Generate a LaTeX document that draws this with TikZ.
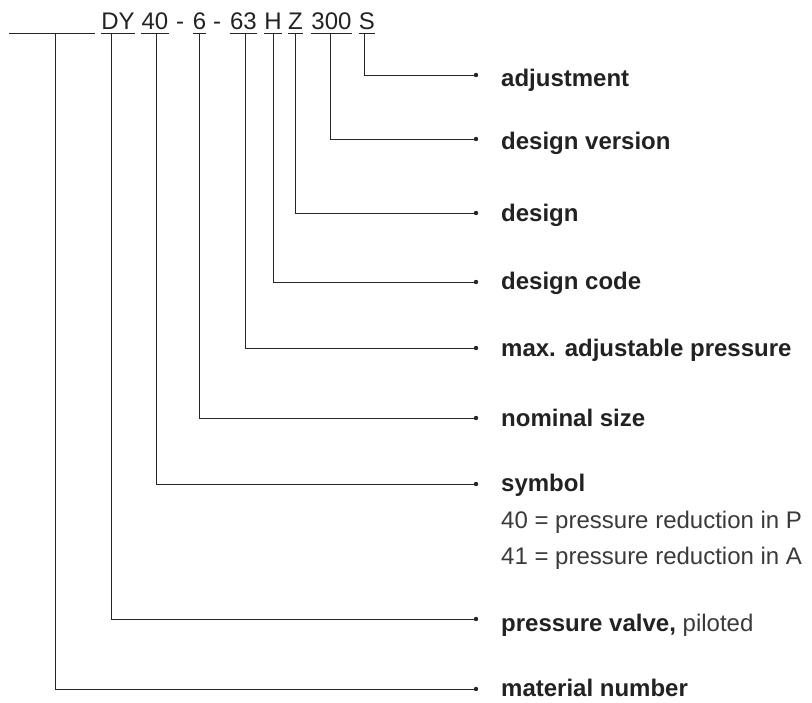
\documentclass[tikz,border=0pt]{standalone}
\usepackage{fontspec}
\setmainfont{Liberation Sans}
\usetikzlibrary{calc}
\definecolor{ink}{HTML}{222222}
\definecolor{inkl}{HTML}{3A3A3A}
\begin{document}
\begin{tikzpicture}[x=1pt,y=-1pt,
  tok/.style={anchor=base,inner sep=0pt,font=\fontsize{24}{28}\selectfont,text=ink},
  lbl/.style={anchor=base west,inner sep=0pt,font=\fontsize{24}{28}\selectfont\bfseries,text=ink},
  sub/.style={anchor=base west,inner sep=0pt,font=\fontsize{24}{28}\selectfont,text=inkl},
  ln/.style={draw=black!85,line width=0.8pt},
  dot/.style={circle,fill=black!85,inner sep=0pt,minimum size=4.4pt}]
\useasboundingbox (0,0) rectangle (812,703);
% header tokens
\coordinate (blankL) at (9,33);
\coordinate (blankR) at (95,33);
\node[tok] (tDY) at (118,30) {DY};
\node[tok] (t40) at (155,30) {40};
\node[tok] (m1) at (180,30) {-};
\node[tok] (t6) at (199.5,30) {6};
\node[tok] (m2) at (217,30) {-};
\node[tok] (t63) at (243.5,30) {63};
\node[tok] (tH) at (273,30) {H};
\node[tok] (tZ) at (295.5,30) {Z};
\node[tok] (t300) at (331.5,30) {300};
\node[tok] (tS) at (367,30) {S};
% underlines
\draw[ln] (blankL) -- (blankR);
\foreach \n in {tDY,t40,t6,t63,tH,tZ,t300,tS}
  \draw[ln] ([yshift=-3pt]\n.base west) -- ([yshift=-3pt]\n.base east);
% dots
\node[dot] (dS) at (476,75) {};
\node[dot] (d300) at (476,139) {};
\node[dot] (dZ) at (476,213) {};
\node[dot] (dH) at (476,282) {};
\node[dot] (d63) at (476,348) {};
\node[dot] (d6) at (476,418) {};
\node[dot] (d40) at (476,484) {};
\node[dot] (dDY) at (476,619) {};
\node[dot] (dM) at (476,689) {};
% connectors
\draw[ln] ([xshift=-3pt,yshift=-3pt]tS.base) |- (dS.center);
\draw[ln] ([xshift=-1.5pt,yshift=-3pt]t300.base) |- (d300.center);
\draw[ln] ([xshift=-0.5pt,yshift=-3pt]tZ.base) |- (dZ.center);
\draw[ln] ([yshift=-3pt]tH.base) |- (dH.center);
\draw[ln] ([xshift=1.5pt,yshift=-3pt]t63.base) |- (d63.center);
\draw[ln] ([xshift=-0.5pt,yshift=-3pt]t6.base) |- (d6.center);
\draw[ln] ([xshift=1pt,yshift=-3pt]t40.base) |- (d40.center);
\draw[ln] ([xshift=-7pt,yshift=-3pt]tDY.base) |- (dDY.center);
\draw[ln] ($(blankL)!0.535!(blankR)$) |- (dM.center);
% labels
\node[lbl] (lS) at (501,87) {adjustment};
\node[lbl] (l300) at (501,150) {design version};
\node[lbl] (lZ) at (501,222) {design};
\node[lbl] (lH) at (501,290) {design code};
\node[lbl] (l63) at (501,357) {max. adjustable pressure};
\node[lbl] (l6) at (501,427) {nominal size};
\node[lbl] (l40) at (501,492) {symbol};
\node[sub] (s40) at (501,529) {40 = pressure reduction in P};
\node[sub] (s41) at (501,564) {41 = pressure reduction in A};
\node[lbl] (lDY) at (501,631) {pressure valve, {\mdseries\color{inkl}piloted}};
\node[lbl] (lM) at (501,696) {material number};
\end{tikzpicture}
\end{document}
